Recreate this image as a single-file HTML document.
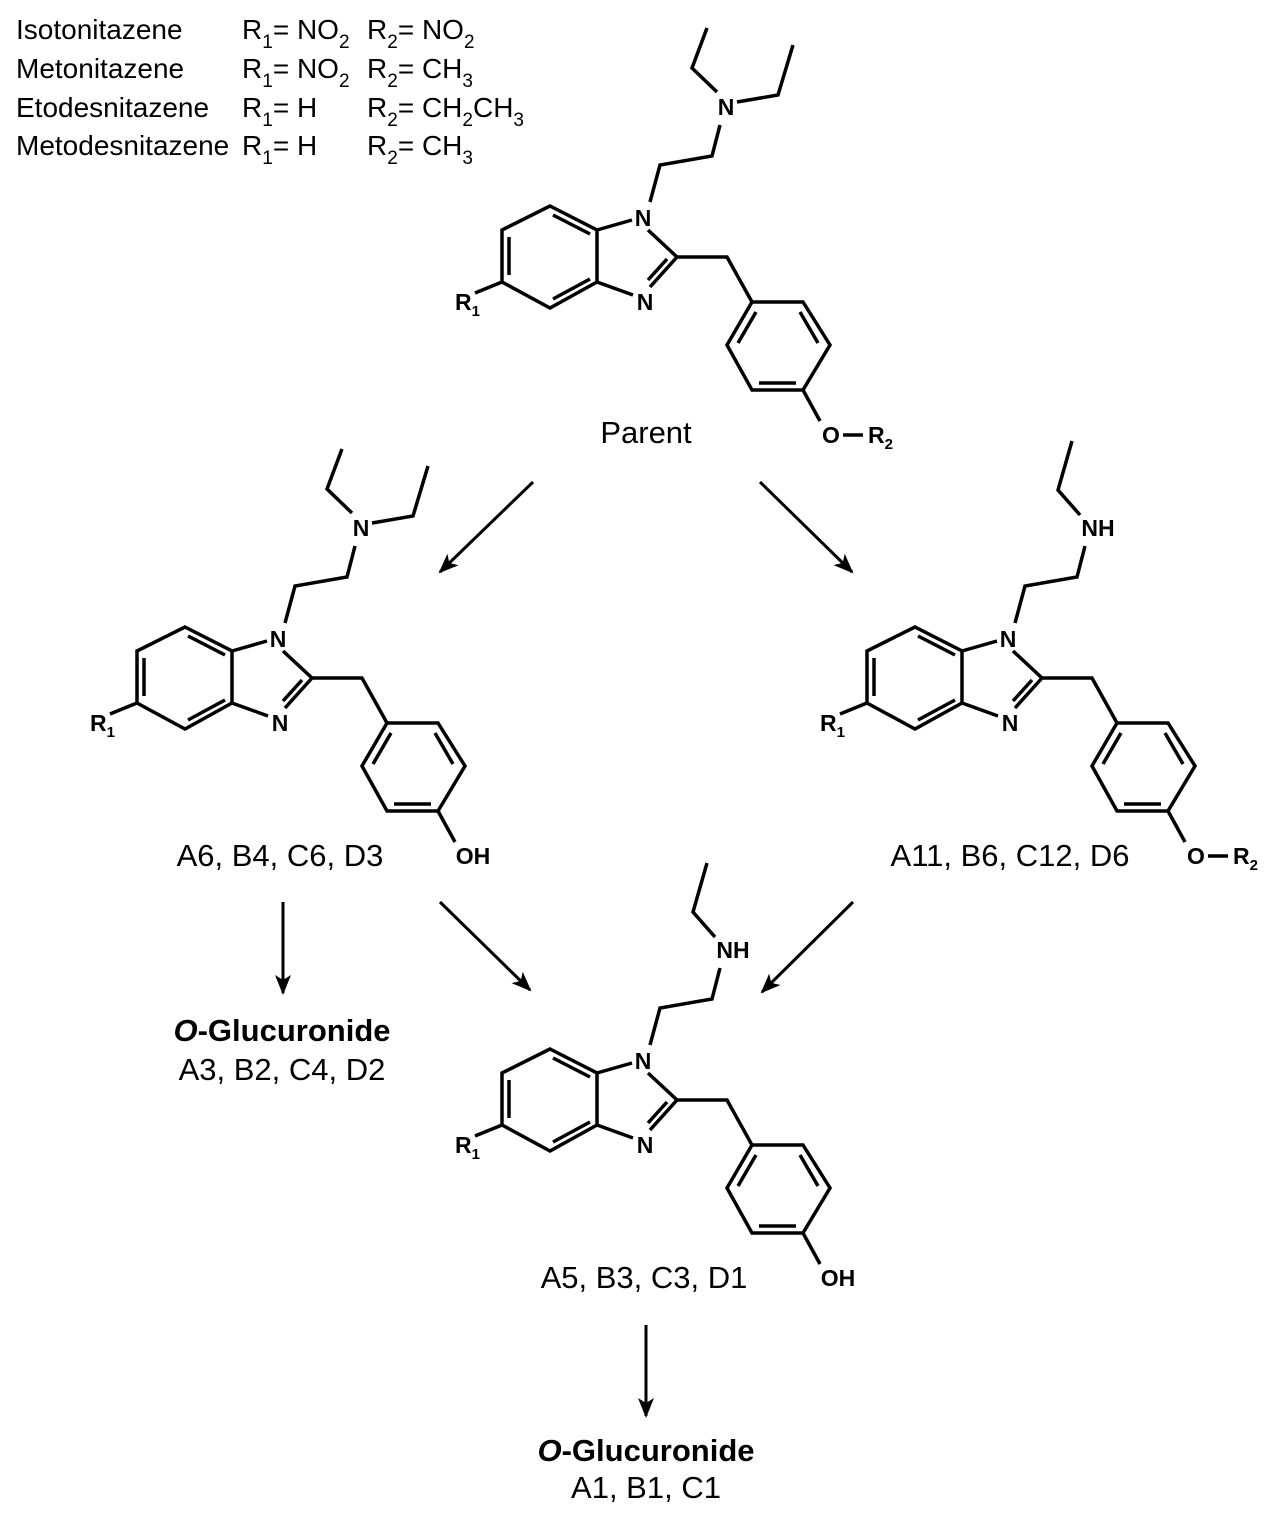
<!DOCTYPE html>
<html><head><meta charset="utf-8"><style>
html,body{margin:0;padding:0;background:#fff}
svg{display:block}
text{font-family:"Liberation Sans",Arial,sans-serif;fill:#000}
.a{font-weight:bold;font-size:23px}
.s{font-size:15px}
.l{font-size:28px}
.m{font-size:31px}
</style></head><body>
<svg width="1288" height="1520" viewBox="0 0 1288 1520" xmlns="http://www.w3.org/2000/svg">
<defs>
<marker id="ar" markerWidth="20" markerHeight="16" refX="18" refY="8" orient="auto" markerUnits="userSpaceOnUse" viewBox="0 0 20 16">
<path d="M0,0 L20,8 L0,16 L5,8 Z" fill="#000"/>
</marker>
<g id="core" fill="none" stroke="#000" stroke-width="3.5" stroke-linejoin="miter">
<path d="M550,206 L597,230 L597,282 L550,308 L502,282 L502,230 Z"/>
<path d="M553,215 L590,234 M509,237 L509,275 M553,299 L590,279"/>
<path d="M597,230 L632,220 M597,282 L633,295 M648,230 L677,257 L650,287 M667,259 L648,280"/>
<path d="M677,257 L727,257 L752,302"/>
<path d="M752,302 L803,302 L830,345 L803,390 L752,390 L727,345 Z"/>
<path d="M756,312 L738,343 M800,312 L818,343 M759,383 L796,383"/>
<path d="M803,390 L820,421"/>
<path d="M475,293 L502,282"/>
<path d="M650,202 L660,165 L712,156 L720,125"/>
</g>
</defs>

<g>
<text x="16" y="39" class="l">Isotonitazene</text>
<text x="16" y="78" class="l">Metonitazene</text>
<text x="16" y="117" class="l">Etodesnitazene</text>
<text x="16" y="155" class="l">Metodesnitazene</text>
<text x="242" y="39" class="l">R<tspan font-size="19" dy="9">1</tspan><tspan dy="-9">= NO</tspan><tspan font-size="19" dy="9">2</tspan></text>
<text x="242" y="78" class="l">R<tspan font-size="19" dy="9">1</tspan><tspan dy="-9">= NO</tspan><tspan font-size="19" dy="9">2</tspan></text>
<text x="242" y="117" class="l">R<tspan font-size="19" dy="9">1</tspan><tspan dy="-9">= H</tspan></text>
<text x="242" y="155" class="l">R<tspan font-size="19" dy="9">1</tspan><tspan dy="-9">= H</tspan></text>
<text x="367" y="39" class="l">R<tspan font-size="19" dy="9">2</tspan><tspan dy="-9">= NO</tspan><tspan font-size="19" dy="9">2</tspan></text>
<text x="367" y="78" class="l">R<tspan font-size="19" dy="9">2</tspan><tspan dy="-9">= CH</tspan><tspan font-size="19" dy="9">3</tspan></text>
<text x="367" y="117" class="l">R<tspan font-size="19" dy="9">2</tspan><tspan dy="-9">= CH</tspan><tspan font-size="19" dy="9">2</tspan><tspan dy="-9">CH</tspan><tspan font-size="19" dy="9">3</tspan></text>
<text x="367" y="155" class="l">R<tspan font-size="19" dy="9">2</tspan><tspan dy="-9">= CH</tspan><tspan font-size="19" dy="9">3</tspan></text>
</g>

<g>
<use href="#core"/>
<path d="M717,92 L692,68 L707,28 M737,102 L778,95 L793,45" fill="none" stroke="#000" stroke-width="3.5"/>
<text x="726" y="115" class="a" text-anchor="middle">N</text>
<text x="643" y="226" class="a" text-anchor="middle">N</text>
<text x="645" y="310" class="a" text-anchor="middle">N</text>
<text x="455" y="310" class="a">R<tspan class="s" dy="6">1</tspan></text>
<text x="831" y="443" class="a" text-anchor="middle">O</text>
<path d="M843,435 L863,435" stroke="#000" stroke-width="3.5"/>
<text x="868" y="443" class="a">R<tspan class="s" dy="6">2</tspan></text>
<text x="646" y="443" class="m" text-anchor="middle">Parent</text>
</g>

<g transform="translate(-365,421)">
<use href="#core"/>
<path d="M717,92 L692,68 L707,28 M737,102 L778,95 L793,45" fill="none" stroke="#000" stroke-width="3.5"/>
<text x="726" y="115" class="a" text-anchor="middle">N</text>
<text x="643" y="226" class="a" text-anchor="middle">N</text>
<text x="645" y="310" class="a" text-anchor="middle">N</text>
<text x="455" y="310" class="a">R<tspan class="s" dy="6">1</tspan></text>
<text x="838" y="443" class="a" text-anchor="middle">OH</text>
</g>
<text x="280" y="866" class="m" text-anchor="middle">A6, B4, C6, D3</text>

<g transform="translate(365,421)">
<use href="#core"/>
<path d="M715,94 L693,69 L707,20" fill="none" stroke="#000" stroke-width="3.5"/>
<text x="733" y="115" class="a" text-anchor="middle">NH</text>
<text x="643" y="226" class="a" text-anchor="middle">N</text>
<text x="645" y="310" class="a" text-anchor="middle">N</text>
<text x="455" y="310" class="a">R<tspan class="s" dy="6">1</tspan></text>
<text x="831" y="443" class="a" text-anchor="middle">O</text>
<path d="M843,435 L863,435" stroke="#000" stroke-width="3.5"/>
<text x="868" y="443" class="a">R<tspan class="s" dy="6">2</tspan></text>
</g>
<text x="1010" y="866" class="m" text-anchor="middle">A11, B6, C12, D6</text>

<g transform="translate(0,843)">
<use href="#core"/>
<path d="M715,94 L693,69 L707,20" fill="none" stroke="#000" stroke-width="3.5"/>
<text x="733" y="115" class="a" text-anchor="middle">NH</text>
<text x="643" y="226" class="a" text-anchor="middle">N</text>
<text x="645" y="310" class="a" text-anchor="middle">N</text>
<text x="455" y="310" class="a">R<tspan class="s" dy="6">1</tspan></text>
<text x="838" y="443" class="a" text-anchor="middle">OH</text>
</g>
<text x="644" y="1288" class="m" text-anchor="middle">A5, B3, C3, D1</text>

<g stroke="#000" stroke-width="3" fill="none" marker-end="url(#ar)">
<path d="M533,482 L440,572"/>
<path d="M760,482 L852,572"/>
<path d="M283,902 L283,993"/>
<path d="M440,902 L530,990"/>
<path d="M853,902 L762,992"/>
<path d="M646,1325 L646,1416"/>
</g>

<text x="282" y="1041" class="m" text-anchor="middle" font-weight="bold"><tspan font-style="italic">O</tspan>-Glucuronide</text>
<text x="282" y="1080" class="m" text-anchor="middle">A3, B2, C4, D2</text>
<text x="646" y="1461" class="m" text-anchor="middle" font-weight="bold"><tspan font-style="italic">O</tspan>-Glucuronide</text>
<text x="646" y="1498" class="m" text-anchor="middle">A1, B1, C1</text>
</svg>
</body></html>
